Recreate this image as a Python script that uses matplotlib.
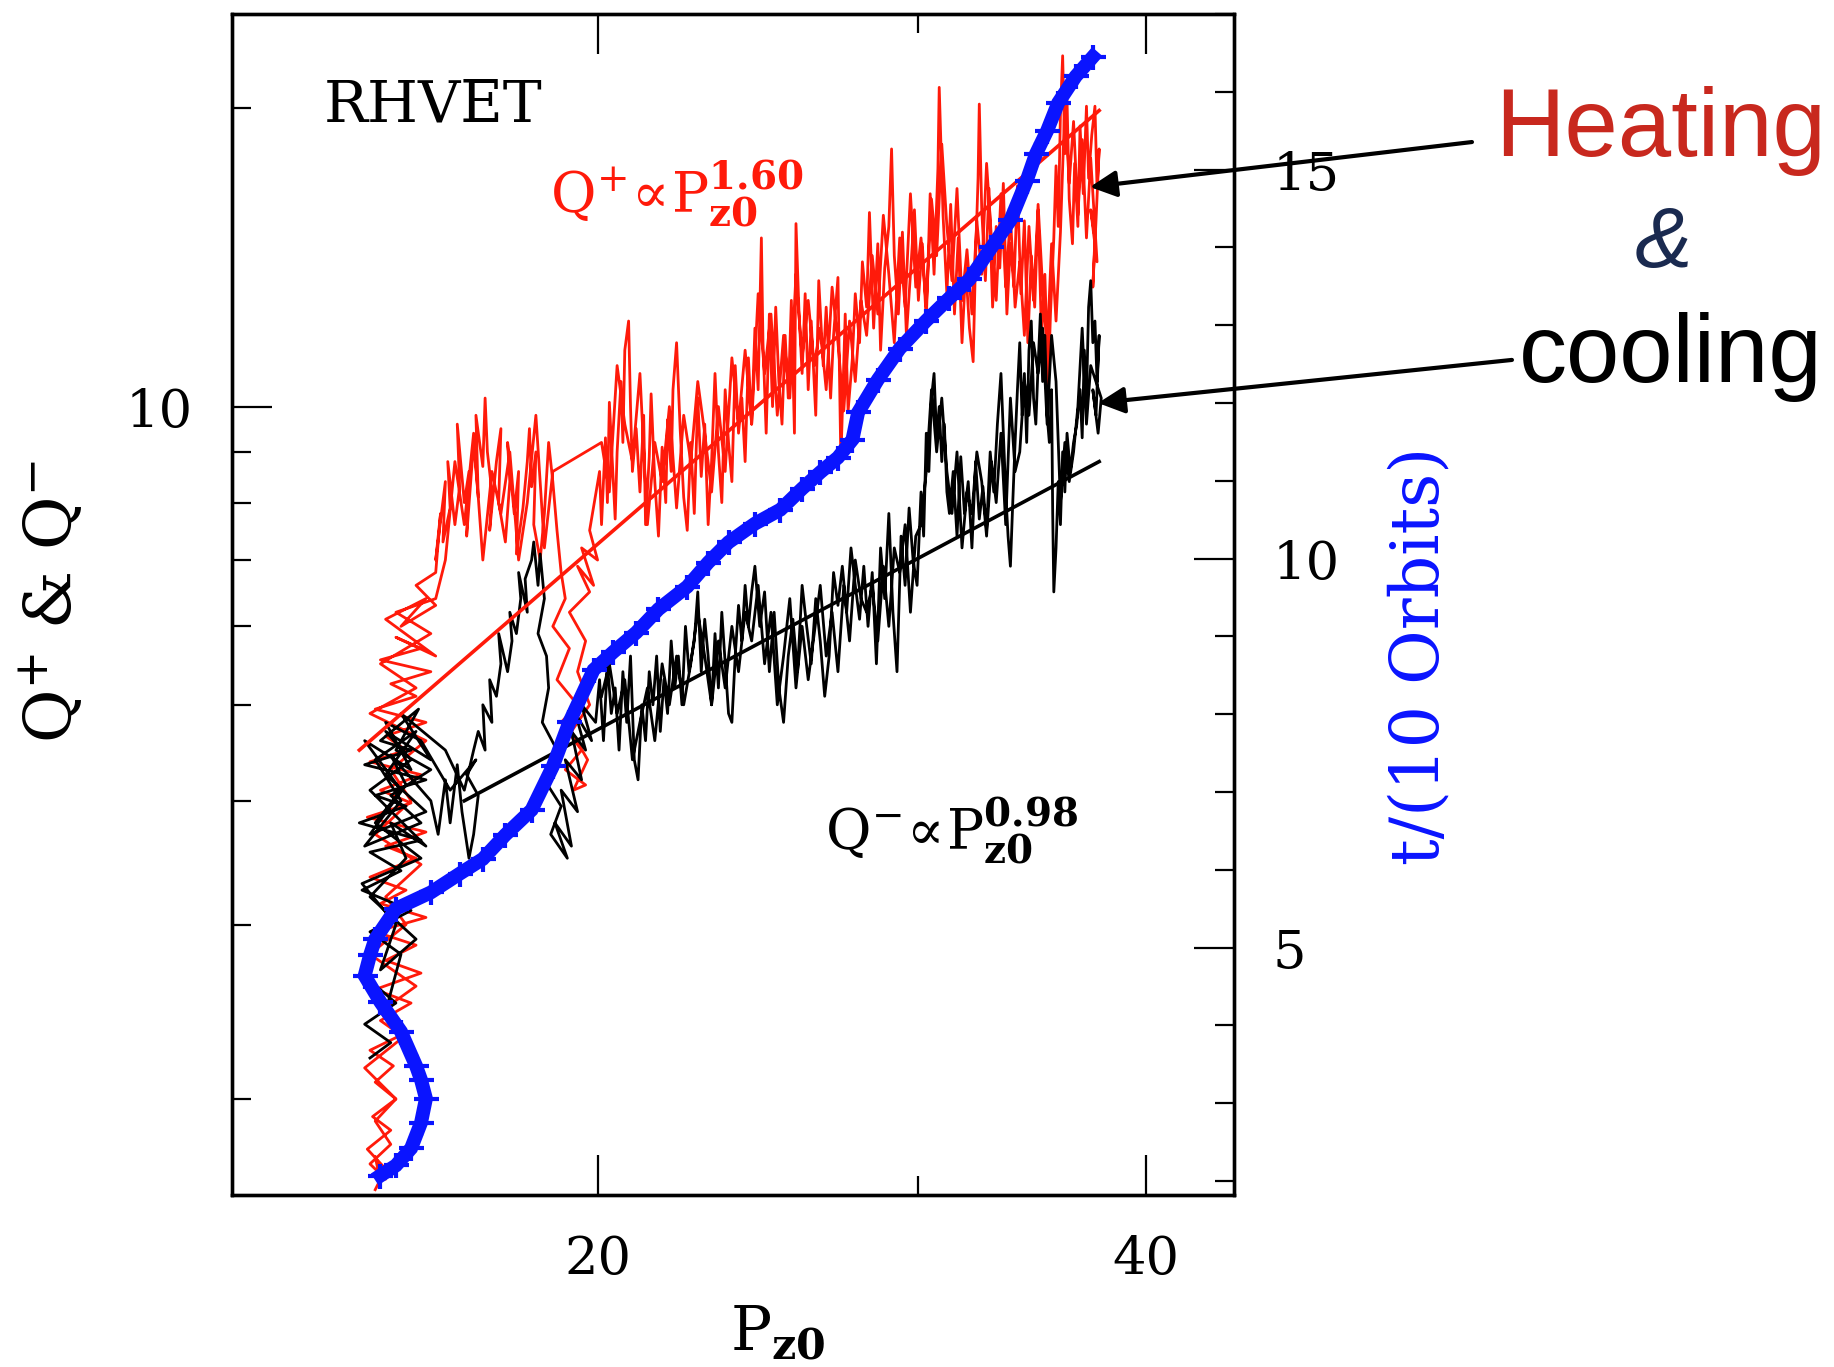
#!/usr/bin/env python3
"""
RHVET: heating / cooling rates against Pz0, with time on the right axis
"""

import matplotlib
matplotlib.use('Agg')
import matplotlib.pyplot as plt
from matplotlib.patches import FancyArrowPatch
from matplotlib.ticker import FixedLocator, NullFormatter, FixedFormatter

plt.rcParams['font.family'] = ['DejaVu Serif']
plt.rcParams['mathtext.fontset'] = 'dejavuserif'

heat_p_low = [15.1, 15.3, 14.95, 15.4, 15.05, 15.5, 15.1, 15.45, 15.0, 15.6,
              15.2, 15.8, 15.1, 16.0, 15.3, 15.9, 15.1, 16.1, 15.2, 15.7,
              15.0, 15.9, 15.3, 16.1, 14.95, 15.8, 15.2, 16.0, 15.0, 15.7,
              15.3, 16.1, 15.1, 15.9, 15.4, 16.2, 15.2, 16.0, 15.5, 16.3,
              15.3, 16.1, 15.6, 16.3, 15.9]
heat_q_low = [1.62, 1.7, 1.78, 1.86, 1.92, 2.0, 2.08, 2.16, 2.24, 2.32,
              2.4, 2.5, 2.58, 2.68, 2.76, 2.86, 2.95, 3.05, 3.15, 3.25,
              3.35, 3.5, 3.6, 3.72, 3.85, 3.98, 4.1, 4.25, 4.38, 4.5,
              4.65, 4.8, 4.95, 5.1, 5.25, 5.4, 5.55, 5.7, 5.85, 5.6,
              6.1, 6.4, 6.0, 6.3, 6.6]
heat_p_blob = [16.3, 16.4, 16.3, 16.5, 16.45, 16.6, 16.55, 16.7, 16.8, 16.75,
               16.9, 17.0, 16.95, 17.1, 17.2, 17.15, 17.3, 17.35, 17.4, 17.5,
               17.45, 17.6, 17.7, 17.65, 17.8, 17.9, 17.85, 18.0, 18.1, 18.05,
               18.2, 18.3, 18.35, 18.4, 18.5, 18.45, 18.6, 18.7, 18.8, 18.9,
               19.0, 19.1]
heat_q_blob = [6.8, 7.8, 7.0, 8.4, 7.3, 7.9, 8.8, 7.6, 8.3, 9.6,
               8.0, 8.6, 7.4, 9.2, 8.1, 9.8, 8.7, 10.2, 9.0, 8.2,
               7.5, 8.8, 9.5, 8.0, 7.3, 8.4, 9.2, 7.8, 8.6, 7.1,
               7.9, 8.8, 9.5, 8.3, 9.0, 7.6, 7.0, 7.8, 9.2, 8.4,
               7.5, 6.8]
heat_p_dip = [19.2, 18.9, 19.3, 19.0, 19.5, 19.1, 19.6, 19.2, 19.7, 19.4,
              19.75, 19.35, 19.8, 19.5, 19.7, 19.3, 19.8, 19.5, 19.9, 19.6,
              20.0, 19.8]
heat_q_dip = [6.4, 6.0, 5.7, 5.3, 5.0, 4.8, 4.5, 4.3, 4.15, 4.1,
              4.4, 4.7, 5.0, 5.4, 5.8, 6.2, 6.5, 6.9, 6.6, 7.2,
              7.0, 7.5]
heat_p_band = [20.05, 20.1, 20.2, 20.25, 20.3, 20.4, 20.45, 20.5, 20.6, 20.65,
               20.7, 20.8, 20.85, 20.9, 21.0,
               21.1, 21.2, 21.25, 21.35, 21.4, 21.5, 21.6, 21.7, 21.8, 21.85,
               21.95, 22.0, 22.1, 22.2, 22.3, 22.4, 22.5,
               22.6, 22.7, 22.8, 22.9, 23.0, 23.1, 23.2, 23.3, 23.4, 23.5,
               23.6, 23.7, 23.8, 23.9, 24.0,
               24.1, 24.2, 24.3, 24.4, 24.5, 24.6, 24.65, 24.75, 24.85, 24.95,
               25.05, 25.15, 25.25, 25.35, 25.45, 25.55, 25.65, 25.7, 25.8, 25.9, 26.0,
               26.1, 26.2, 26.35, 26.45, 26.6, 26.7, 26.85, 26.95, 27.1, 27.2,
               27.35, 27.45, 27.6, 27.7, 27.85, 27.95,
               28.1, 28.2, 28.35, 28.5, 28.6, 28.75, 28.9, 29.0, 29.1, 29.25,
               29.4, 29.55, 29.7, 29.85, 30.0,
               30.15, 30.3, 30.45, 30.6, 30.75, 30.8, 30.95, 31.1, 31.25, 31.4,
               31.55, 31.7, 31.85, 32.0,
               32.15, 32.25, 32.35, 32.4, 32.5, 32.65, 32.8, 32.95, 33.1, 33.25,
               33.4, 33.55, 33.7, 33.85, 34.0,
               34.15, 34.3, 34.45, 34.6, 34.75, 34.9, 35.05, 35.2, 35.35, 35.45,
               35.6, 35.7, 35.8, 35.9, 36.0,
               36.1, 36.2, 36.3, 36.45, 36.55, 36.7, 36.8, 36.95, 37.1, 37.2,
               37.35, 37.5, 37.6, 37.7, 37.55, 37.4, 37.5, 37.3, 37.6, 37.4]
heat_q_band = [8.6, 7.6, 9.3, 8.0, 10.1, 8.4, 7.7, 9.0, 10.6, 9.2,
               11.4, 12.2, 10.0, 8.6, 9.5,
               8.2, 9.8, 7.6, 8.9, 10.3, 8.4, 7.4, 9.1, 8.0, 9.7,
               8.6, 10.4, 11.6, 9.5, 8.1, 7.5, 9.2,
               7.8, 10.2, 8.5, 9.6, 7.6, 8.8, 10.8, 9.0, 8.0, 10.4,
               9.2, 8.4, 11.0, 9.4, 10.2,
               8.8, 11.2, 9.6, 12.0, 10.4, 14.8, 11.6, 9.4, 12.4, 10.0,
               12.6, 10.6, 9.6, 11.8, 10.2, 12.8, 9.4, 15.3, 12.4, 10.8, 13.0,
               10.4, 12.2, 9.8, 13.4, 11.0, 12.6, 10.2, 11.8, 13.5, 8.8,
               12.4, 9.9, 11.2, 13.0, 11.6, 14.0,
               12.6, 15.7, 12.0, 14.6, 11.4, 13.8, 15.2, 18.2, 14.2, 12.4,
               15.0, 11.8, 13.6, 15.8, 12.8,
               14.6, 12.2, 16.4, 13.6, 17.4, 21.0, 15.6, 13.0, 16.0, 12.4,
               14.8, 11.6, 13.8, 12.0,
               11.1, 14.2, 17.0, 20.2, 15.8, 13.4, 16.6, 12.6, 15.2, 13.8,
               16.8, 12.4, 14.6, 13.2, 16.7,
               13.0, 15.4, 11.6, 14.2, 12.6, 15.8, 11.8, 13.6, 10.5, 12.4,
               14.8, 17.5, 15.2, 19.8, 22.6,
               18.0, 20.4, 16.2, 14.6, 17.6, 15.2, 19.2, 16.4, 20.1, 17.0,
               18.8, 20.1, 16.6, 18.2, 15.4, 13.2, 14.8, 15.8, 14.0, 16.4]
# the trajectory wanders back down in Pz0 through the same band
heat_p_back = [37.3, 37.1, 36.9, 36.7, 36.5, 36.3, 36.1,
               35.9, 35.7, 35.5, 35.3, 35.1, 34.9, 34.7, 34.5, 34.3, 34.1,
               33.9, 33.7, 33.5, 33.3, 33.1, 32.9, 32.7, 32.5, 32.3, 32.1,
               31.9, 31.7, 31.5, 31.3, 31.1, 30.9, 30.7, 30.5, 30.3, 30.1,
               29.9, 29.7, 29.5, 29.3, 29.1, 28.9, 28.7, 28.5, 28.3, 28.1,
               27.9, 27.7, 27.5, 27.3, 27.1, 26.9, 26.7, 26.5, 26.3, 26.1,
               25.9, 25.7, 25.5, 25.3, 25.1, 24.9, 24.7, 24.5, 24.3, 24.1,
               23.9, 23.7, 23.5, 23.3, 23.1, 22.9, 22.7, 22.5, 22.3, 22.1,
               21.9, 21.7, 21.5, 21.3, 21.1, 20.9, 20.7, 20.5, 20.3, 20.1,
               18.9, 18.7, 18.5, 18.3, 18.1, 17.9, 17.7, 17.5, 17.3, 17.1,
               16.9, 16.7, 16.5, 16.3,
               15.5, 16.2, 15.2, 15.9, 15.0, 16.1, 15.4, 15.8, 15.1, 16.0,
               15.3, 15.7, 15.0, 15.9, 15.2, 15.6, 14.9, 15.5, 15.1, 15.4,
               15.0, 15.3, 15.1, 15.2]
heat_q_back = [17.8, 14.8, 18.6, 15.6, 19.4, 16.8, 20.2,
               15.0, 12.2, 14.6, 11.4, 13.2, 16.0, 12.8, 15.2, 11.8, 14.0,
               12.6, 15.6, 13.2, 16.4, 12.8, 14.8, 17.6, 13.6, 15.4, 12.4,
               14.4, 12.8, 16.6, 13.4, 15.2, 18.4, 14.2, 16.2, 12.6, 14.8,
               13.2, 16.4, 12.6, 14.8, 11.6, 13.6, 15.6, 12.4, 14.2, 11.8,
               12.8, 10.6, 12.2, 9.9, 11.6, 13.2, 10.4, 12.0, 11.0, 12.8,
               11.2, 13.6, 10.2, 11.8, 9.8, 12.4, 10.8, 13.0, 9.6, 11.4,
               9.6, 11.2, 8.6, 10.0, 8.2, 9.4, 10.6, 8.8, 9.8, 7.9,
               10.0, 8.4, 9.2, 7.6, 10.8, 8.8, 9.6, 11.0, 8.2, 9.2,
               8.6, 7.2, 9.8, 8.0, 7.0, 9.0, 7.8, 8.6, 7.0, 9.4,
               7.6, 8.8, 7.0, 6.4,
               6.2, 5.9, 5.5, 5.2, 4.9, 4.6, 4.3, 4.0, 3.7, 3.45,
               3.2, 3.0, 2.8, 2.6, 2.45, 2.3, 2.15, 2.0, 1.9, 1.8,
               1.72, 1.66, 1.75, 1.65]

# cooling Q- trajectory (Pz0, Q-)
cool_p_low = [15.0, 15.4, 14.9, 15.5, 15.05, 15.3, 15.6, 15.0, 15.8, 14.85,
              15.6, 15.0, 16.0, 14.8, 15.7, 15.1, 16.1, 14.9, 15.8, 15.2,
              15.95, 15.5, 16.2, 15.4, 16.0, 14.9, 15.6, 15.1, 15.9, 15.3,
              16.1, 15.0, 15.7, 15.4, 16.2,
              16.35, 16.5, 16.6, 16.75, 16.85, 17.0, 17.1, 17.2, 16.95, 17.15,
              16.6, 16.0, 15.3, 15.8, 14.9, 15.6, 15.1, 16.0, 14.85, 15.5,
              15.2, 15.9, 15.0, 15.7, 15.4, 16.1, 15.0, 15.8, 15.3, 16.2,
              15.6, 16.5, 16.9, 17.1]
cool_q_low = [2.2, 2.28, 2.38, 2.5, 2.62, 2.45, 2.8, 2.95, 3.1, 3.25,
              3.4, 3.55, 3.65, 3.8, 3.95, 4.05, 4.2, 4.35, 4.5, 4.6,
              4.95, 4.5, 4.3, 4.05, 3.8, 3.6, 4.0, 4.4, 4.7, 4.25,
              3.9, 3.7, 4.15, 4.45, 4.0,
              3.7, 4.2, 3.8, 4.35, 3.9, 3.5, 3.7, 4.05, 4.25, 4.4,
              4.1, 4.6, 4.8, 4.3, 4.6, 4.1, 3.8, 3.5, 3.3, 3.0,
              2.7, 2.9, 3.2, 3.5, 3.8, 3.6, 4.1, 4.4, 4.7, 4.4,
              4.9, 4.5, 4.1, 4.5]
cool_p_strand = [17.2, 17.35, 17.3, 17.5, 17.45, 17.6, 17.7, 17.65, 17.85, 17.95,
                 17.9, 18.05, 18.15, 18.1, 18.3, 18.25, 18.4, 18.45, 18.55, 18.6,
                 18.7, 18.55, 18.75,
                 18.8, 18.65, 19.0, 18.7, 19.1, 18.85, 19.25, 18.95, 19.35, 19.1,
                 19.5, 19.2, 19.6, 19.35, 19.7, 19.45, 19.85, 19.6, 19.95]
cool_q_strand = [4.7, 4.5, 5.0, 4.8, 5.3, 5.1, 5.5, 5.9, 5.4, 5.8,
                 6.2, 5.9, 6.4, 6.8, 6.2, 6.7, 7.0, 7.3, 6.6, 7.1,
                 6.4, 5.9, 5.6,
                 5.2, 4.8, 4.5, 4.2, 3.95, 3.7, 3.5, 3.8, 3.6, 4.1,
                 3.9, 4.4, 4.2, 4.7, 4.5, 4.9, 4.6, 5.0, 4.8]
cool_p_band = [20.05, 20.15, 20.25, 20.35, 20.45, 20.55, 20.65, 20.75, 20.85, 20.95,
               21.05, 21.15, 21.25, 21.35, 21.45, 21.55, 21.65, 21.75, 21.85, 21.95,
               22.05, 22.15, 22.25, 22.35, 22.45,
               22.6, 22.7, 22.8, 22.9, 23.0, 23.1, 23.2, 23.3, 23.4, 23.5,
               23.6, 23.7, 23.8, 23.9, 24.0, 24.1, 24.2, 24.3, 24.4,
               24.55, 24.7, 24.85, 25.0, 25.15, 25.3, 25.45, 25.6, 25.75, 25.9,
               26.05, 26.2, 26.35, 26.5, 26.65, 26.8, 26.95, 27.1, 27.25, 27.4,
               27.55, 27.7, 27.85, 28.0,
               28.15, 28.3, 28.45, 28.6, 28.75, 28.9, 29.05, 29.2, 29.35, 29.5,
               29.65, 29.8, 29.95,
               30.1, 30.2, 30.3, 30.4, 30.5, 30.6, 30.7, 30.8, 30.9, 31.0, 31.1, 31.2,
               31.35, 31.5, 31.65, 31.8, 31.95, 32.1, 32.25, 32.4, 32.55, 32.7, 32.85, 33.0,
               33.15, 33.3, 33.4, 33.5, 33.6, 33.7, 33.8, 33.9, 34.0, 34.1,
               34.2, 34.3, 34.4, 34.5, 34.6, 34.7, 34.8, 34.9, 35.0, 35.1,
               35.2, 35.3, 35.4, 35.5,
               35.55, 35.6, 35.7, 35.8, 35.9, 36.0, 36.1, 36.2, 36.35, 36.5,
               36.65, 36.8, 36.9, 37.0, 37.1, 37.2, 37.3, 37.4, 37.5, 37.6,
               37.7, 37.55, 37.4, 37.65, 37.8]
cool_q_band = [5.3, 4.6, 5.5, 4.9, 5.2, 4.5, 5.4, 4.8, 5.6, 4.4,
               4.2, 5.0, 4.6, 5.4, 5.0, 5.6, 4.7, 5.3, 4.9, 5.8,
               5.2, 5.6, 5.0, 6.0, 5.4,
               5.8, 6.5, 5.4, 6.1, 5.6, 5.0, 5.9, 5.2, 6.2, 5.5,
               4.9, 4.8, 5.6, 6.3, 5.8, 6.6, 6.0, 6.5, 6.9,
               6.0, 6.5, 5.4, 6.2, 5.2, 4.8, 5.6, 6.1, 5.4, 6.6,
               6.0, 5.5, 6.4, 5.8, 5.1, 5.6, 6.8, 6.3, 6.9, 6.2,
               7.2, 6.6, 6.1, 6.9,
               6.0, 6.8, 5.5, 7.2, 6.4, 7.8, 6.2, 5.4, 7.4, 6.6,
               7.9, 7.0, 6.6,
               8.2, 7.4, 9.4, 8.6, 10.2, 10.8, 9.3, 10.0, 8.8, 9.6, 8.2, 7.8,
               8.6, 7.4, 8.9, 7.8, 8.4, 7.2, 8.8, 7.7, 8.3, 7.5, 9.0, 8.2,
               9.6, 10.8, 9.4, 8.2, 7.4, 6.9, 8.0, 9.2, 10.4, 11.6,
               9.8, 10.8, 9.2, 11.4, 12.2, 10.2, 9.6, 11.0, 12.4, 10.6,
               11.8, 9.8, 9.2, 10.4,
               7.8, 6.5, 7.2, 8.4, 7.6, 9.0, 8.2, 9.4, 8.6, 9.2,
               9.6, 10.4, 9.3, 11.4, 10.2, 12.6, 13.4, 11.6, 12.2, 10.6,
               11.8, 9.8, 10.4, 9.4, 10.2]
cool_p_back = [37.3, 37.1, 36.9, 36.7, 36.5, 36.3, 36.1,
               35.9, 35.7, 35.5, 35.3, 35.1, 34.9, 34.7, 34.5, 34.3, 34.1,
               33.9, 33.7, 33.5, 33.3, 33.1, 32.9, 32.7, 32.5, 32.3, 32.1,
               31.9, 31.7, 31.5, 31.3, 31.1, 30.9, 30.7, 30.5, 30.3, 30.1,
               29.9, 29.7, 29.5, 29.3, 29.1, 28.9, 28.7, 28.5, 28.3, 28.1,
               27.9, 27.7, 27.5, 27.3, 27.1, 26.9, 26.7, 26.5, 26.3, 26.1,
               25.9, 25.7, 25.5, 25.3, 25.1, 24.9, 24.7, 24.5, 24.3, 24.1,
               23.9, 23.7, 23.5, 23.3, 23.1, 22.9, 22.7, 22.5, 22.3, 22.1,
               21.9, 21.7, 21.5, 21.3, 21.1, 20.9, 20.7, 20.5, 20.3, 20.1]
cool_q_back = [11.0, 9.6, 12.0, 10.0, 9.0, 8.4, 9.2,
               8.0, 10.6, 11.8, 9.6, 12.0, 10.8, 11.6, 9.8, 10.6, 9.0,
               8.6, 10.2, 7.6, 9.4, 8.0, 8.8, 7.4, 8.4, 9.0, 7.8,
               8.2, 7.2, 9.0, 7.8, 8.6, 10.2, 9.0, 10.4, 8.6, 7.6,
               7.4, 6.2, 7.6, 6.8, 7.2, 6.0, 6.9, 5.8, 6.6, 6.2,
               6.4, 7.0, 5.8, 6.6, 5.4, 6.2, 5.6, 6.6, 5.9, 5.3,
               6.0, 5.2, 6.4, 5.6, 5.0, 6.2, 5.5, 6.6, 5.8, 6.2,
               5.4, 6.0, 5.2, 5.8, 5.0, 5.6, 6.2, 5.5, 5.0, 5.6,
               5.0, 5.5, 4.6, 5.2, 4.8, 4.4, 5.3, 4.9, 5.5, 5.1]

# power-law fits, end points
fit_heat_p = [14.8, 37.7]
fit_heat_q = [4.5, 19.9]
fit_cool_p = [16.9, 37.7]
fit_cool_q = [4.0, 8.8]

# time in units of 10 orbits (right axis)
time_p = [15.2, 15.5, 15.8, 16.0, 16.1, 16.0, 15.9, 15.6, 15.2, 14.9, 15.0, 15.1, 15.5, 16.2,
          16.8, 17.3, 17.8, 18.4, 18.9, 19.3, 19.9, 20.4, 21.0, 21.6, 22.4, 23.0, 23.6, 24.4,
          25.2, 25.9, 26.5, 27.1, 27.6, 27.8, 28.5, 29.3, 30.3, 31.2, 32.0, 32.9, 33.7, 34.4,
          34.8, 35.3, 35.8, 36.6, 37.4]
time_t = [2.07, 2.2, 2.42, 2.75, 3.06, 3.3, 3.48, 3.92, 4.3, 4.64, 4.9, 5.11, 5.5, 5.71,
          5.95, 6.14, 6.45, 6.77, 7.33, 7.9, 8.57, 8.8, 9.05, 9.35, 9.64, 9.95, 10.21, 10.45,
          10.63, 10.9, 11.11, 11.3, 11.53, 11.88, 12.3, 12.7, 13.06, 13.35, 13.59, 14.0, 14.35, 14.86,
          15.2, 15.5, 15.86, 16.2, 16.45]

heat_p = heat_p_low + heat_p_blob + heat_p_dip + heat_p_band + heat_p_back
heat_q = heat_q_low + heat_q_blob + heat_q_dip + heat_q_band + heat_q_back
cool_p = cool_p_low + cool_p_strand + cool_p_band + cool_p_back
cool_q = cool_q_low + cool_q_strand + cool_q_band + cool_q_back

RED = '#ff1a0a'
BLUE = '#0a14ff'

fig = plt.figure(figsize=(18.34, 13.67), dpi=100)
ax = fig.add_axes([0.1265, 0.1258, 0.5463, 0.8639])

ax.plot(heat_p, heat_q, color=RED, lw=2.0)
ax.plot(cool_p, cool_q, color='black', lw=2.0)
ax.plot(fit_heat_p, fit_heat_q, color=RED, lw=2.6)
ax.plot(fit_cool_p, fit_cool_q, color='black', lw=2.6)

ax.set_xscale('log')
ax.set_yscale('log')
ax.set_xlim(12.6, 44.7)
ax.set_ylim(1.6, 24.9)

ax.xaxis.set_major_locator(FixedLocator([20, 40]))
ax.xaxis.set_major_formatter(FixedFormatter(['20', '40']))
ax.xaxis.set_minor_locator(FixedLocator([30]))
ax.xaxis.set_minor_formatter(NullFormatter())
ax.yaxis.set_major_locator(FixedLocator([10]))
ax.yaxis.set_major_formatter(FixedFormatter(['10']))
ax.yaxis.set_minor_locator(FixedLocator([2, 3, 4, 5, 6, 7, 8, 9, 20]))
ax.yaxis.set_minor_formatter(NullFormatter())

ax.tick_params(which='both', direction='in', top=True, right=False, width=1.6,
               labelsize=38, pad=28)
ax.tick_params(which='major', length=29)
ax.tick_params(which='minor', length=14)
for s in ax.spines.values():
    s.set_linewidth(2.4)

ax.text(0.092, 0.923, 'RHVET', transform=ax.transAxes, fontsize=42,
        ha='left', va='center')
ax.text(0.317, 0.848, r'$\mathrm{Q}^{+}\!\propto\!\mathrm{P}_{\mathbf{z0}}^{\mathbf{1.60}}$',
        transform=ax.transAxes, fontsize=40, color=RED, ha='left', va='center')
ax.text(0.592, 0.309, r'$\mathrm{Q}^{-}\!\propto\!\mathrm{P}_{\mathbf{z0}}^{\mathbf{0.98}}$',
        transform=ax.transAxes, fontsize=40, color='black', ha='left', va='center')

# time axis on the right
ax2 = ax.twinx()
ax2.plot(time_p, time_t, color=BLUE, lw=10, marker='+', ms=18, mew=3,
         solid_joinstyle='miter')
ax2.set_ylim(1.82, 17.0)
ax2.yaxis.set_major_locator(FixedLocator([5, 10, 15]))
ax2.yaxis.set_minor_locator(FixedLocator(list(range(2, 18))))
ax2.yaxis.set_minor_formatter(NullFormatter())
ax2.tick_params(which='both', direction='in', left=False, right=True, width=1.6,
                labelsize=38, pad=28)
ax2.tick_params(which='major', length=29)
ax2.tick_params(which='minor', length=14)
for s in ax2.spines.values():
    s.set_linewidth(2.4)

fig.text(0.029, 0.56, r'Q$^{+}$ & Q$^{-}$', rotation=90, fontsize=47,
         ha='center', va='center')
fig.text(0.774, 0.52, 't/(10 Orbits)', rotation=90, fontsize=48, color=BLUE,
         ha='center', va='center')
fig.text(0.424, 0.025, r'$\mathrm{P}_{\mathbf{z0}}$', fontsize=44,
         ha='center', va='center')

# annotations outside the panel
fig.text(0.815, 0.886, 'Heating', family='Liberation Sans', fontsize=69,
         color='#c8281e', ha='left', va='baseline')
fig.text(0.907, 0.805, '&', family='Liberation Sans', style='italic', fontsize=62,
         color='#1a2a50', ha='center', va='baseline')
fig.text(0.828, 0.7205, 'cooling', family='Liberation Sans', fontsize=69,
         color='black', ha='left', va='baseline')

arrow = dict(arrowstyle='-|>', lw=3, color='black', mutation_scale=40,
             shrinkA=0, shrinkB=0)
fig.add_artist(FancyArrowPatch((0.8026, 0.8961), (0.5943, 0.8632),
                               transform=fig.transFigure, **arrow))
fig.add_artist(FancyArrowPatch((0.8244, 0.7367), (0.5987, 0.7052),
                               transform=fig.transFigure, **arrow))

plt.savefig('out.png', dpi=100)
plt.close()
